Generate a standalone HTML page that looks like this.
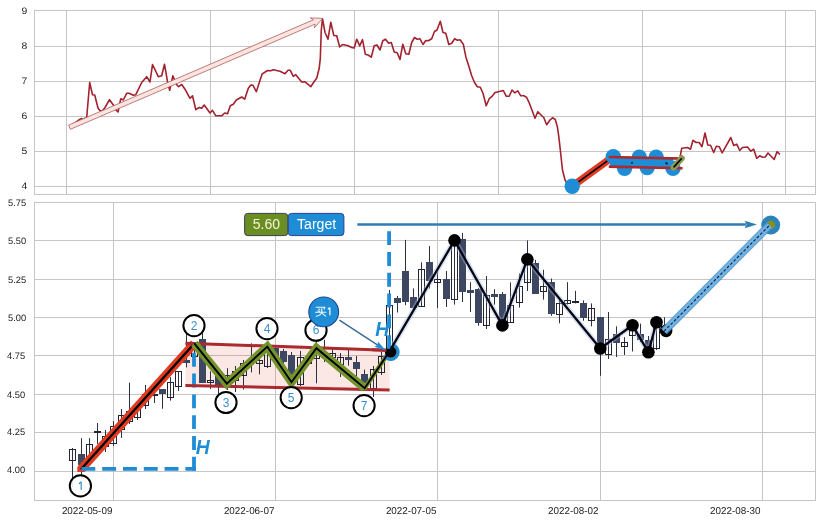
<!DOCTYPE html>
<html><head><meta charset="utf-8"><title>chart</title>
<style>html,body{margin:0;padding:0;background:#fff;font-family:"Liberation Sans",sans-serif;}svg{display:block}</style></head>
<body>
<svg width="822" height="523" viewBox="0 0 822 523" font-family="Liberation Sans, sans-serif" style="will-change:transform">
<rect width="822" height="523" fill="#fff"/>
<g stroke="#c5c5c5" stroke-width="1" fill="none">
<path d="M66.5 10.5V194.5"/>
<path d="M210.5 10.5V194.5"/>
<path d="M354.5 10.5V194.5"/>
<path d="M498.5 10.5V194.5"/>
<path d="M642.5 10.5V194.5"/>
<path d="M785.5 10.5V194.5"/>
<path d="M34.5 46.5H815.5"/>
<path d="M34.5 81.5H815.5"/>
<path d="M34.5 116.5H815.5"/>
<path d="M34.5 151.5H815.5"/>
<path d="M34.5 186.5H815.5"/>
<path d="M113.5 202.5V500.5"/>
<path d="M275.5 202.5V500.5"/>
<path d="M437.5 202.5V500.5"/>
<path d="M600.5 202.5V500.5"/>
<path d="M762.5 202.5V500.5"/>
<path d="M34.5 240.5H815.5"/>
<path d="M34.5 279.5H815.5"/>
<path d="M34.5 317.5H815.5"/>
<path d="M34.5 355.5H815.5"/>
<path d="M34.5 394.5H815.5"/>
<path d="M34.5 432.5H815.5"/>
<path d="M34.5 471.5H815.5"/>
</g>
<g fill="#1c1c1c" font-size="9.3" text-anchor="end" text-rendering="geometricPrecision">
<text transform="translate(27.3 13.5) scale(1.12 1.02)">9</text>
<text transform="translate(27.3 49.2) scale(1.12 1.02)">8</text>
<text transform="translate(27.3 84.2) scale(1.12 1.02)">7</text>
<text transform="translate(27.3 119.2) scale(1.12 1.02)">6</text>
<text transform="translate(27.3 154.2) scale(1.12 1.02)">5</text>
<text transform="translate(27.3 189.2) scale(1.12 1.02)">4</text>
<text x="26.1" y="205.7">5.75</text>
<text x="26.1" y="243.5">5.50</text>
<text x="26.1" y="282.5">5.25</text>
<text x="26.1" y="320.5">5.00</text>
<text x="25.2" y="358.5">4.75</text>
<text x="25.2" y="397.5">4.50</text>
<text x="25.2" y="435.0">4.25</text>
<text x="25.2" y="473.4">4.00</text>
</g>
<g fill="#1c1c1c" font-size="9.9" text-anchor="end" text-rendering="geometricPrecision">
<text x="112.4" y="514.0">2022-05-09</text>
<text x="274.4" y="514.0">2022-06-07</text>
<text x="436.4" y="514.0">2022-07-05</text>
<text x="598.5" y="514.0">2022-08-02</text>
<text x="760.5" y="514.0">2022-08-30</text>
</g>
<polyline points="69.5,126.5 75.0,123.0 80.0,119.2 81.5,118.6 83.0,119.5 86.7,117.5 89.7,82.5 92.5,94.7 94.7,95.0 98.0,108.0 100.0,110.8 102.5,110.8 105.0,107.5 109.5,99.7 113.3,105.0 115.8,109.7 118.0,112.0 120.8,98.7 123.3,100.0 126.7,93.3 129.2,93.3 133.3,95.3 135.8,94.7 141.7,82.5 146.7,76.7 150.0,82.0 152.5,64.5 158.3,76.7 161.7,75.8 164.5,64.2 167.5,81.7 169.7,90.3 172.8,75.8 176.7,84.7 178.7,86.7 181.7,84.5 185.0,89.2 190.0,98.3 192.5,95.8 195.8,109.7 199.2,107.5 201.7,108.3 204.2,105.0 210.0,113.0 212.5,110.3 215.8,115.8 221.7,115.8 224.7,113.0 227.5,113.7 230.3,105.8 233.3,104.2 236.3,100.0 241.7,97.0 244.7,99.2 248.3,88.3 250.8,85.0 253.0,85.3 256.3,91.7 262.0,74.2 267.5,70.5 270.8,70.8 273.3,69.7 280.0,71.2 285.0,73.8 288.0,70.3 290.3,70.3 293.3,76.3 295.8,74.7 301.7,82.0 304.7,81.7 310.8,86.7 314.2,81.5 316.7,78.3 319.2,68.3 320.3,58.3 321.3,30.0 322.5,18.7 325.0,32.5 328.0,39.2 330.8,22.2 333.8,35.5 336.7,35.8 339.7,47.0 342.5,44.5 347.5,45.5 351.7,47.5 354.2,48.0 356.7,39.2 359.7,45.8 362.5,39.7 365.3,54.2 368.0,55.0 371.3,57.2 374.2,45.8 377.0,45.0 380.0,50.0 382.8,40.8 385.5,39.2 388.7,43.3 391.3,42.5 394.2,52.0 397.2,52.8 400.0,59.5 402.8,44.2 405.8,53.8 408.8,54.2 411.7,42.5 414.5,37.5 417.2,39.2 420.0,38.8 423.0,44.5 425.8,40.5 428.3,40.8 431.7,38.8 434.5,31.5 437.0,30.0 440.3,21.3 443.0,32.5 445.8,33.3 448.8,44.5 451.7,43.3 454.7,38.7 457.5,40.3 460.0,39.7 463.3,44.2 465.8,56.7 468.7,65.8 471.7,75.8 474.5,82.5 477.3,86.8 480.3,87.2 483.0,93.3 486.2,105.8 489.2,98.7 491.7,96.7 495.0,92.5 498.3,91.7 503.3,90.5 506.3,96.3 509.2,96.3 512.0,90.0 514.7,92.8 517.8,90.8 520.8,95.8 524.2,95.8 526.7,97.5 529.2,102.8 535.0,118.3 537.8,111.7 540.8,114.7 543.7,117.5 546.7,124.7 550.0,120.0 552.5,117.8 555.3,119.5 557.5,127.5 558.8,136.7 560.3,150.0 562.5,170.0 565.0,180.0 568.3,185.0 572.2,186.3" fill="none" stroke="#a2222e" stroke-width="1.6" stroke-linejoin="round"/>
<polyline points="680.0,157.5 681.7,148.3 687.5,147.5 690.5,149.2 693.0,140.3 696.2,142.5 699.2,142.5 702.0,146.7 705.0,133.0 707.8,145.0 710.5,145.3 713.7,152.5 716.3,146.2 719.2,146.7 722.2,152.8 730.8,137.5 733.7,145.5 736.7,144.2 739.7,150.5 742.5,147.5 747.5,147.0 750.8,151.2 753.7,149.2 756.7,158.3 759.7,155.8 762.5,157.2 765.3,157.0 768.0,153.0 774.2,159.5 777.0,151.7 780.0,154.5" fill="none" stroke="#a2222e" stroke-width="1.6" stroke-linejoin="round"/>
<path d="M70.4 129.3 L315.2 24.1 L314.4 27.8 L322.6 18.4 L310.2 17.9 L313.4 19.8 L68.6 125.1Z" fill="#fde4e1" stroke="#a04a48" stroke-width="0.7" stroke-linejoin="miter"/>
<path d="M572.2 186.3L613.3 156.6" stroke="#e13a22" stroke-width="7.4" stroke-linecap="butt"/>
<path d="M572.2 186.3L613.3 156.6" stroke="#000" stroke-width="1.5"/>
<polyline points="613.3,156.6 624.6,168.2 639.3,157.2 647.2,167.6 656.2,157.2 673.0,168.2 681.8,158.2" fill="none" stroke="#6b8e23" stroke-width="5" stroke-linejoin="round"/>
<polyline points="613.3,156.6 624.6,168.2 639.3,157.2 647.2,167.6 656.2,157.2 673.0,168.2 681.8,158.2" fill="none" stroke="#000" stroke-width="1.6"/>
<g fill="#1f8dd6">
<circle cx="572.2" cy="186.3" r="7.7"/>
<circle cx="613.3" cy="156.6" r="7.7"/>
<circle cx="624.6" cy="168.2" r="7.7"/>
<circle cx="639.3" cy="157.2" r="7.7"/>
<circle cx="647.2" cy="167.6" r="7.7"/>
<circle cx="656.2" cy="157.2" r="7.7"/>
<circle cx="673.0" cy="168.2" r="7.7"/>
<polygon points="610,157 673,158.4 673,168.2 610,166.6"/>
</g>
<path d="M608.8 157.0L684 158.6M608.8 166.6L682.6 168.3" stroke="#ab2a2f" stroke-width="2.6"/>
<path d="M673.6 167.4L681.8 158.2" stroke="#8e9b52" stroke-width="6" stroke-linecap="round"/>
<path d="M673.6 167.4L681.8 158.2" stroke="#000" stroke-width="1.6"/>
<path d="M631.5 162.2l1 1.2M665.5 162.6l2 1.4" stroke="#111" stroke-width="1.6"/>
<polygon points="185.4,343.2 389.6,350.4 389.6,390.0 185.4,385.4" fill="#e24a33" fill-opacity="0.13"/>
<g stroke-width="1">
<path d="M72.5 448V487" stroke="#2b3042"/>
<rect x="69.5" y="449.5" width="6" height="11.0" fill="none" stroke="#22252f"/>
<path d="M81.5 438.2V478.6" stroke="#2b3042"/>
<rect x="78.5" y="454.5" width="6" height="10.0" fill="#3e4761" stroke="#3e4761"/>
<path d="M89.5 438.2V460" stroke="#2b3042"/>
<rect x="86.5" y="444.5" width="6" height="12.0" fill="none" stroke="#22252f"/>
<path d="M97.5 423V444" stroke="#2b3042"/>
<rect x="94.5" y="431.5" width="6" height="1.0" fill="none" stroke="#22252f"/>
<path d="M105.5 430V452" stroke="#2b3042"/>
<rect x="102.5" y="436.5" width="6" height="10.0" fill="none" stroke="#22252f"/>
<path d="M113.5 421V446" stroke="#2b3042"/>
<rect x="110.5" y="426.5" width="6" height="17.0" fill="none" stroke="#22252f"/>
<path d="M121.5 409V438" stroke="#2b3042"/>
<rect x="118.5" y="415.5" width="6" height="14.0" fill="none" stroke="#22252f"/>
<path d="M129.5 382.7V424" stroke="#2b3042"/>
<rect x="126.5" y="411.5" width="6" height="10.0" fill="none" stroke="#22252f"/>
<path d="M137.5 402V420" stroke="#2b3042"/>
<rect x="134.5" y="405.5" width="6" height="12.0" fill="none" stroke="#22252f"/>
<path d="M145.5 385V409" stroke="#2b3042"/>
<rect x="142.5" y="394.5" width="6" height="11.0" fill="none" stroke="#22252f"/>
<path d="M154.5 388V403" stroke="#2b3042"/>
<rect x="151.5" y="394.5" width="6" height="1.0" fill="none" stroke="#22252f"/>
<path d="M162.5 389.4V408.8" stroke="#2b3042"/>
<rect x="159.5" y="389.5" width="6" height="4.0" fill="#3e4761" stroke="#3e4761"/>
<path d="M170.5 377.2V400.6" stroke="#2b3042"/>
<rect x="167.5" y="382.5" width="6" height="15.0" fill="none" stroke="#22252f"/>
<path d="M178.5 371V391" stroke="#2b3042"/>
<rect x="175.5" y="371.5" width="6" height="15.0" fill="none" stroke="#22252f"/>
<path d="M186.5 333V367.4" stroke="#2b3042"/>
<rect x="183.5" y="360.5" width="6" height="2.0" fill="#3e4761" stroke="#3e4761"/>
<path d="M194.5 342V360" stroke="#2b3042"/>
<rect x="191.5" y="346.5" width="6" height="10.0" fill="none" stroke="#22252f"/>
<path d="M202.5 333V382" stroke="#2b3042"/>
<rect x="199.5" y="339.5" width="6" height="43.0" fill="#3e4761" stroke="#3e4761"/>
<path d="M210.5 371.3V388.9" stroke="#2b3042"/>
<rect x="207.5" y="380.5" width="6" height="2.0" fill="none" stroke="#22252f"/>
<path d="M218.5 372V394" stroke="#2b3042"/>
<rect x="215.5" y="376.5" width="6" height="9.0" fill="#3e4761" stroke="#3e4761"/>
<path d="M227.5 368.2V390" stroke="#2b3042"/>
<rect x="224.5" y="375.5" width="6" height="9.0" fill="none" stroke="#22252f"/>
<path d="M235.5 366V392" stroke="#2b3042"/>
<rect x="232.5" y="371.5" width="6" height="9.0" fill="none" stroke="#22252f"/>
<path d="M243.5 360V389.6" stroke="#2b3042"/>
<rect x="240.5" y="363.5" width="6" height="12.0" fill="none" stroke="#22252f"/>
<path d="M251.5 343.3V372.4" stroke="#2b3042"/>
<rect x="248.5" y="359.5" width="6" height="3.0" fill="none" stroke="#22252f"/>
<path d="M259.5 353V374.3" stroke="#2b3042"/>
<rect x="256.5" y="360.5" width="6" height="3.0" fill="none" stroke="#22252f"/>
<path d="M267.5 346V368" stroke="#2b3042"/>
<rect x="264.5" y="350.5" width="6" height="16.0" fill="none" stroke="#22252f"/>
<path d="M275.5 345V358" stroke="#2b3042"/>
<rect x="272.5" y="348.5" width="6" height="7.0" fill="#3e4761" stroke="#3e4761"/>
<path d="M283.5 349V364" stroke="#2b3042"/>
<rect x="280.5" y="351.5" width="6" height="10.0" fill="#3e4761" stroke="#3e4761"/>
<path d="M291.5 352V382" stroke="#2b3042"/>
<rect x="288.5" y="355.5" width="6" height="23.0" fill="#3e4761" stroke="#3e4761"/>
<path d="M300.5 351V386" stroke="#2b3042"/>
<rect x="297.5" y="357.5" width="6" height="27.0" fill="none" stroke="#22252f"/>
<path d="M308.5 353V366" stroke="#2b3042"/>
<rect x="305.5" y="356.5" width="6" height="7.0" fill="none" stroke="#22252f"/>
<path d="M316.5 341V383.3" stroke="#2b3042"/>
<rect x="313.5" y="353.5" width="6" height="5.0" fill="none" stroke="#22252f"/>
<path d="M324.5 339.8V362" stroke="#2b3042"/>
<rect x="321.5" y="353.5" width="6" height="4.0" fill="#3e4761" stroke="#3e4761"/>
<path d="M332.5 348.4V362" stroke="#2b3042"/>
<rect x="329.5" y="353.5" width="6" height="4.0" fill="none" stroke="#22252f"/>
<path d="M340.5 353V377" stroke="#2b3042"/>
<rect x="337.5" y="357.5" width="6" height="7.0" fill="none" stroke="#22252f"/>
<path d="M348.5 349.7V365.7" stroke="#2b3042"/>
<rect x="345.5" y="357.5" width="6" height="2.0" fill="#3e4761" stroke="#3e4761"/>
<path d="M356.5 356V378.3" stroke="#2b3042"/>
<rect x="353.5" y="362.5" width="6" height="6.0" fill="#3e4761" stroke="#3e4761"/>
<path d="M364.5 369.6V389.5" stroke="#2b3042"/>
<rect x="361.5" y="374.5" width="6" height="8.0" fill="#3e4761" stroke="#3e4761"/>
<path d="M373.5 366V397" stroke="#2b3042"/>
<rect x="370.5" y="369.5" width="6" height="19.0" fill="none" stroke="#22252f"/>
<path d="M381.5 352V375" stroke="#2b3042"/>
<rect x="378.5" y="356.5" width="6" height="16.0" fill="none" stroke="#22252f"/>
<path d="M389.5 290V350" stroke="#2b3042"/>
<rect x="386.5" y="305.5" width="6" height="44.0" fill="none" stroke="#22252f"/>
<path d="M397.5 295.9V312.5" stroke="#2b3042"/>
<rect x="394.5" y="298.5" width="6" height="4.0" fill="#3e4761" stroke="#3e4761"/>
<path d="M405.5 239.9V305.1" stroke="#2b3042"/>
<rect x="402.5" y="271.5" width="6" height="30.0" fill="#3e4761" stroke="#3e4761"/>
<path d="M413.5 288.4V308.3" stroke="#2b3042"/>
<rect x="410.5" y="297.5" width="6" height="10.0" fill="#3e4761" stroke="#3e4761"/>
<path d="M421.5 262.3V306.6" stroke="#2b3042"/>
<rect x="418.5" y="269.5" width="6" height="37.0" fill="none" stroke="#22252f"/>
<path d="M429.5 246.1V288.5" stroke="#2b3042"/>
<rect x="426.5" y="262.5" width="6" height="18.0" fill="#3e4761" stroke="#3e4761"/>
<path d="M437.5 272.4V308" stroke="#2b3042"/>
<rect x="434.5" y="279.5" width="6" height="3.0" fill="none" stroke="#22252f"/>
<path d="M446.5 271V307" stroke="#2b3042"/>
<rect x="443.5" y="279.5" width="6" height="19.0" fill="#3e4761" stroke="#3e4761"/>
<path d="M454.5 238V304.6" stroke="#2b3042"/>
<rect x="451.5" y="240.5" width="6" height="59.0" fill="none" stroke="#22252f"/>
<path d="M462.5 233V302" stroke="#2b3042"/>
<rect x="459.5" y="239.5" width="6" height="52.0" fill="#3e4761" stroke="#3e4761"/>
<path d="M470.5 282.2V312" stroke="#2b3042"/>
<rect x="467.5" y="290.5" width="6" height="2.0" fill="#3e4761" stroke="#3e4761"/>
<path d="M478.5 288V325.7" stroke="#2b3042"/>
<rect x="475.5" y="289.5" width="6" height="33.0" fill="#3e4761" stroke="#3e4761"/>
<path d="M486.5 276V329" stroke="#2b3042"/>
<rect x="483.5" y="295.5" width="6" height="30.0" fill="none" stroke="#22252f"/>
<path d="M494.5 289.2V304.6" stroke="#2b3042"/>
<rect x="491.5" y="294.5" width="6" height="2.0" fill="#3e4761" stroke="#3e4761"/>
<path d="M502.5 292V323" stroke="#2b3042"/>
<rect x="499.5" y="294.5" width="6" height="26.0" fill="#3e4761" stroke="#3e4761"/>
<path d="M510.5 282.4V322.2" stroke="#2b3042"/>
<rect x="507.5" y="305.5" width="6" height="17.0" fill="none" stroke="#22252f"/>
<path d="M519.5 273.5V307.6" stroke="#2b3042"/>
<rect x="516.5" y="286.5" width="6" height="16.0" fill="none" stroke="#22252f"/>
<path d="M527.5 240.4V291" stroke="#2b3042"/>
<rect x="524.5" y="264.5" width="6" height="18.0" fill="none" stroke="#22252f"/>
<path d="M535.5 259.8V294" stroke="#2b3042"/>
<rect x="532.5" y="263.5" width="6" height="30.0" fill="#3e4761" stroke="#3e4761"/>
<path d="M543.5 269.8V299.6" stroke="#2b3042"/>
<rect x="540.5" y="286.5" width="6" height="5.0" fill="none" stroke="#22252f"/>
<path d="M551.5 278.5V315.8" stroke="#2b3042"/>
<rect x="548.5" y="282.5" width="6" height="31.0" fill="#3e4761" stroke="#3e4761"/>
<path d="M559.5 299.6V323.3" stroke="#2b3042"/>
<rect x="556.5" y="303.5" width="6" height="11.0" fill="none" stroke="#22252f"/>
<path d="M567.5 282.2V304.6" stroke="#2b3042"/>
<rect x="564.5" y="300.5" width="6" height="3.0" fill="none" stroke="#22252f"/>
<path d="M575.5 290.9V303.4" stroke="#2b3042"/>
<rect x="572.5" y="301.5" width="6" height="1.0" fill="none" stroke="#22252f"/>
<path d="M583.5 300.4V320.8" stroke="#2b3042"/>
<rect x="580.5" y="303.5" width="6" height="14.0" fill="#3e4761" stroke="#3e4761"/>
<path d="M591.5 303.4V326.4" stroke="#2b3042"/>
<rect x="588.5" y="308.5" width="6" height="12.0" fill="none" stroke="#22252f"/>
<path d="M600.5 317V375.8" stroke="#2b3042"/>
<rect x="597.5" y="317.5" width="6" height="30.0" fill="#3e4761" stroke="#3e4761"/>
<path d="M608.5 312V359" stroke="#2b3042"/>
<rect x="605.5" y="339.5" width="6" height="15.0" fill="none" stroke="#22252f"/>
<path d="M616.5 326.3V357" stroke="#2b3042"/>
<rect x="613.5" y="334.5" width="6" height="8.0" fill="#3e4761" stroke="#3e4761"/>
<path d="M624.5 337.2V355" stroke="#2b3042"/>
<rect x="621.5" y="342.5" width="6" height="4.0" fill="none" stroke="#22252f"/>
<path d="M632.5 324V351.5" stroke="#2b3042"/>
<rect x="629.5" y="328.5" width="6" height="7.0" fill="none" stroke="#22252f"/>
<path d="M640.5 323.6V342" stroke="#2b3042"/>
<rect x="637.5" y="334.5" width="6" height="5.0" fill="#3e4761" stroke="#3e4761"/>
<path d="M648.5 336V352" stroke="#2b3042"/>
<rect x="645.5" y="340.5" width="6" height="8.0" fill="#3e4761" stroke="#3e4761"/>
<path d="M656.5 320V350" stroke="#2b3042"/>
<rect x="653.5" y="323.5" width="6" height="25.0" fill="none" stroke="#22252f"/>
<path d="M664.5 317.2V333" stroke="#2b3042"/>
<rect x="661.5" y="326.5" width="6" height="5.0" fill="none" stroke="#22252f"/>
</g>
<clipPath id="c1"><rect x="77.3" y="330" width="130" height="142.1"/></clipPath>
<path d="M75.6 475.3L194.3 343.4" stroke="#e13a22" stroke-width="8.8" stroke-linecap="butt" clip-path="url(#c1)"/>
<path d="M81.0 469.3L194.3 343.4" stroke="#000" stroke-width="2.3"/>
<g stroke="#1f8dd6" stroke-width="3.8" fill="none" stroke-dasharray="13.9 6.9">
<path d="M81.4 468.8H195.9"/>
<path d="M194 470.7V344"/>
</g>
<path d="M185.4 343.2L386.5 350.3M185.4 385.4L389.6 390.0" stroke="#ab2a2f" stroke-width="3"/>
<polyline points="194.3,343.4 226.8,383.6 267.3,346.6 291.5,382.2 316.4,348.2 364.7,388.2" fill="none" stroke="#74932d" stroke-width="8.4" stroke-linejoin="miter" stroke-miterlimit="10" stroke-linecap="butt"/>
<path d="M364.7 388.2L389.6 351.2" stroke="#74932d" stroke-width="4.4" stroke-linecap="round"/>
<polyline points="389.3,351.6 454.5,240.4 502.4,325.4 527.4,259.4 600.3,348.5 632.5,325.3 648.4,352.2 656.5,322.3 666.1,330.9" fill="none" stroke="#a4b8e4" stroke-opacity="0.42" stroke-width="5.6" stroke-linejoin="round"/>
<path d="M392.22 344.86A7.3 7.3 0 1 1 384.38 355.65" fill="none" stroke="#1f8dd6" stroke-width="3.2"/>
<circle cx="390.7" cy="352.0" r="5.8" fill="#000"/>
<polyline points="194.3,343.4 226.8,383.6 267.3,346.6 291.5,382.2 316.4,348.2 364.7,388.2 389.6,351.2" fill="none" stroke="#000" stroke-width="1.9" stroke-linejoin="miter"/>
<path d="M372 349.8L386.5 350.3" stroke="#ab2a2f" stroke-width="3"/>
<path d="M389.1 231.2V351" stroke="#1f8dd6" stroke-width="3.8" fill="none" stroke-dasharray="13.9 6.9"/>
<polyline points="389.3,351.6 454.5,240.4 502.4,325.4 527.4,259.4 600.3,348.5 632.5,325.3 648.4,352.2 656.5,322.3 666.1,330.9" fill="none" stroke="#05060f" stroke-width="2.3" stroke-linejoin="round"/>
<circle cx="454.5" cy="240.4" r="6.3" fill="#000"/>
<circle cx="502.4" cy="325.4" r="6.3" fill="#000"/>
<circle cx="527.4" cy="259.4" r="6.3" fill="#000"/>
<circle cx="600.3" cy="348.5" r="6.3" fill="#000"/>
<circle cx="632.5" cy="325.3" r="6.3" fill="#000"/>
<circle cx="648.4" cy="352.2" r="6.3" fill="#000"/>
<circle cx="656.5" cy="322.3" r="6.3" fill="#000"/>
<circle cx="666.1" cy="330.9" r="6.3" fill="#000"/>
<circle cx="770.7" cy="225.1" r="7" fill="#84901f" stroke="#2b83bd" stroke-width="5"/>
<path d="M664.0 331.3L769.6 225.2" stroke="#4a93cc" stroke-opacity="0.85" stroke-width="8.2" stroke-linecap="butt"/>
<path d="M664.0 331.3L769.6 225.2" stroke="#74b5e6" stroke-opacity="0.9" stroke-width="5.8" stroke-linecap="butt"/>
<path d="M664.0 331.3L769.6 225.2" stroke="#0e2747" stroke-width="1.15" stroke-dasharray="2.9 1.8"/>
<path d="M357.3 224.5H746" stroke="#2f7db3" stroke-width="2.7"/>
<path d="M757 224.5L744.6 220.8L746.6 224.5L744.6 228.2Z" fill="#2f7db3"/>
<rect x="244.6" y="213.4" width="43.2" height="22.2" rx="3.2" fill="#6b8e23" stroke="#3d3d50" stroke-width="1"/>
<rect x="288.3" y="213.4" width="55.6" height="22.2" rx="3.2" fill="#1f8dd6" stroke="#2a3f8f" stroke-width="1"/>
<text x="266.4" y="228.8" font-size="14" fill="#f4f4d8" text-anchor="middle">5.60</text>
<text x="316.6" y="228.8" font-size="14" fill="#ffffff" text-anchor="middle" textLength="39.2" lengthAdjust="spacingAndGlyphs">Target</text>
<circle cx="80.4" cy="485.9" r="10.6" fill="#fff" fill-opacity="0.9" stroke="#000" stroke-width="2"/>
<path d="M81.2 481.79999999999995V490.09999999999997M81.2 481.79999999999995L78.80000000000001 483.9" fill="none" stroke="#3b8fd0" stroke-width="1.2"/>
<circle cx="194.0" cy="325.6" r="10.6" fill="#fff" fill-opacity="0.9" stroke="#000" stroke-width="2"/>
<text x="194.0" y="329.8" font-size="12" fill="#3b8fd0" text-anchor="middle">2</text>
<circle cx="226.0" cy="402.5" r="10.6" fill="#fff" fill-opacity="0.9" stroke="#000" stroke-width="2"/>
<text x="226.0" y="406.7" font-size="12" fill="#3b8fd0" text-anchor="middle">3</text>
<circle cx="267.0" cy="328.6" r="10.6" fill="#fff" fill-opacity="0.9" stroke="#000" stroke-width="2"/>
<text x="267.0" y="332.8" font-size="12" fill="#3b8fd0" text-anchor="middle">4</text>
<circle cx="291.2" cy="397.6" r="10.6" fill="#fff" fill-opacity="0.9" stroke="#000" stroke-width="2"/>
<text x="291.2" y="401.8" font-size="12" fill="#3b8fd0" text-anchor="middle">5</text>
<circle cx="316.0" cy="330.2" r="10.6" fill="#fff" fill-opacity="0.9" stroke="#000" stroke-width="2"/>
<text x="316.0" y="334.4" font-size="12" fill="#3b8fd0" text-anchor="middle">6</text>
<circle cx="364.1" cy="405.6" r="10.6" fill="#fff" fill-opacity="0.9" stroke="#000" stroke-width="2"/>
<text x="364.1" y="409.8" font-size="12" fill="#3b8fd0" text-anchor="middle">7</text>
<text transform="translate(202.6 453.8) scale(0.92 1)" font-size="21" font-weight="bold" font-style="italic" fill="#1f8dd6" text-anchor="middle">H</text>
<text transform="translate(382.2 335.7) scale(0.92 1)" font-size="21" font-weight="bold" font-style="italic" fill="#1f8dd6" text-anchor="middle">H</text>
<path d="M339.4 320.2L378.5 345.6" stroke="#3d6a94" stroke-width="1.5"/>
<path d="M385.9 350.4L374.4 346.8L377.6 345.0L377.9 341.4Z" fill="#1f8dd6"/>
<circle cx="323.7" cy="311.9" r="14.9" fill="#1f8dd6" stroke="#1d4690" stroke-width="1.1"/>
<g transform="translate(315.3 306.4) scale(0.96 0.9)" fill="none" stroke="#f2f7fc" stroke-width="1.15" stroke-linecap="round" stroke-linejoin="round">
<path d="M1 1H10L9.2 3"/>
<path d="M3.6 2.9L4.8 3.9M2.8 4.8L4.4 5.8"/>
<path d="M0.3 6.4H11"/>
<path d="M6.8 2.4V6.2Q6.2 9.6 1 11"/>
<path d="M7.2 7.8L10.8 10.8"/>
</g>
<path d="M329.9 307.5V315.3M329.9 307.5L327.9 309.3" fill="none" stroke="#f2f7fc" stroke-width="1.25" stroke-linejoin="miter"/>
<g stroke="#c5c5c5" stroke-width="1" fill="none">
<rect x="34.5" y="10.5" width="781.0" height="184.0"/>
<rect x="34.5" y="202.5" width="781.0" height="298.0"/>
</g>
</svg>
</body></html>
